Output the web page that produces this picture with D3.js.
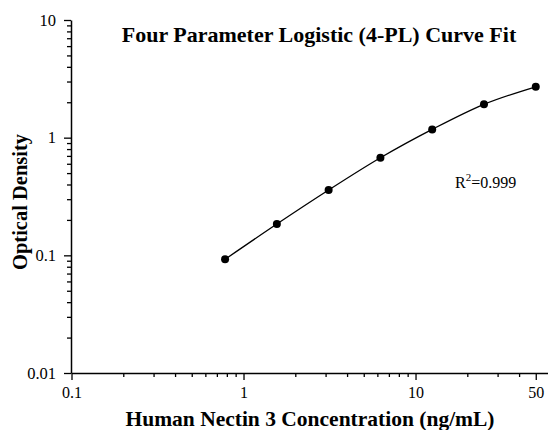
<!DOCTYPE html>
<html><head><meta charset="utf-8">
<script src="https://cdn.jsdelivr.net/npm/d3@7"></script>
<style>body{margin:0;background:#fff}svg{display:block}</style>
</head><body>
<svg id="c" width="548" height="430"></svg>
<script>
const concentrations = [0.78125, 1.5625, 3.125, 6.25, 12.5, 25, 50];
const odValues = [0.0925, 0.1845, 0.359, 0.675, 1.176, 1.92, 2.707];
const xTickValues = [0.1, 1, 10, 50];
const xTickLabels = ["0.1", "1", "10", "50"];
const yTickValues = [0.01, 0.1, 1, 10];
const yTickLabels = ["0.01", "0.1", "1", "10"];

const svg = d3.select("#c");
const font = "'Liberation Serif','Times New Roman',serif";
const x = d3.scaleLog().domain([0.1, 58.9]).range([71.5, 548]);
const y = d3.scaleLog().domain([0.01, 10]).range([373, 20]);

// minor ticks
const xMinor = [];
[0.1, 1, 10].forEach(d => { for (let k = 2; k <= 9; k++) { const v = d * k; if (v < 58 && !xTickValues.includes(v)) xMinor.push(v); } });
const yMinor = [];
[0.01, 0.1, 1].forEach(d => { for (let k = 2; k <= 9; k++) yMinor.push(d * k); });

const gx = svg.append("g").attr("transform", "translate(0,373)");
gx.call(d3.axisBottom(x).tickValues(xMinor).tickSize(4).tickFormat(""));
gx.call(g => g.select(".domain").remove());
const gx2 = svg.append("g").attr("transform", "translate(0,373)");
gx2.call(d3.axisBottom(x).tickValues(xTickValues).tickSize(7).tickSizeOuter(0).tickPadding(7)
  .tickFormat((d, i) => xTickLabels[i]));
gx2.select(".domain").attr("stroke-width", 1.5);
gx2.selectAll("text").attr("font-family", font).attr("font-size", 16).attr("fill", "#000");

const gy = svg.append("g").attr("transform", "translate(71,0)");
gy.call(d3.axisLeft(y).tickValues(yMinor).tickSize(4).tickFormat(""));
gy.call(g => g.select(".domain").remove());
const gy2 = svg.append("g").attr("transform", "translate(71,0)");
gy2.call(d3.axisLeft(y).tickValues(yTickValues).tickSize(7).tickSizeOuter(0).tickPadding(8)
  .tickFormat((d, i) => yTickLabels[i]));
gy2.select(".domain").attr("stroke-width", 1.5);
gy2.selectAll("text").attr("font-family", font).attr("font-size", 16.5).attr("fill", "#000");
svg.selectAll(".tick line").attr("stroke", "#000").attr("stroke-width", 1.3);

const pts = concentrations.map((c, i) => [x(c), y(odValues[i])]);
svg.append("path").attr("d", d3.line().curve(d3.curveMonotoneX)(pts))
  .attr("fill", "none").attr("stroke", "#000").attr("stroke-width", 1.3);
svg.selectAll("circle.pt").data(pts).join("circle").attr("class", "pt")
  .attr("cx", d => d[0]).attr("cy", d => d[1]).attr("r", 4).attr("fill", "#000");

svg.append("text").attr("x", 319).attr("y", 42).attr("text-anchor", "middle")
  .attr("font-family", font).attr("font-weight", "bold").attr("font-size", 22)
  .text("Four Parameter Logistic (4-PL) Curve Fit");
svg.append("text").attr("x", 310).attr("y", 426).attr("text-anchor", "middle")
  .attr("font-family", font).attr("font-weight", "bold").attr("font-size", 21.5)
  .text("Human Nectin 3 Concentration (ng/mL)");
svg.append("text").attr("transform", "translate(27,202) rotate(-90)").attr("text-anchor", "middle")
  .attr("font-family", font).attr("font-weight", "bold").attr("font-size", 20.5)
  .text("Optical Density");
const r = svg.append("text").attr("x", 455).attr("y", 188)
  .attr("font-family", font).attr("font-size", 16);
r.append("tspan").text("R");
r.append("tspan").attr("dy", -7).attr("font-size", 11).text("2");
r.append("tspan").attr("dy", 7).text("=0.999");
</script>
</body></html>
